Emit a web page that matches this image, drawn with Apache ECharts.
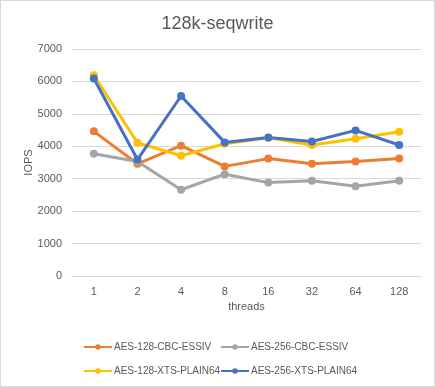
<!DOCTYPE html>
<html><head><meta charset="utf-8">
<script src="https://cdn.jsdelivr.net/npm/echarts@6/dist/echarts.min.js"></script>
<style>html,body{margin:0;padding:0;background:#fff}#c{width:433px;height:385px;border:1px solid #d9d9d9}</style>
</head><body><div id="c"></div>
<script>
const categories = ['1','2','4','8','16','32','64','128'];
const seriesNames = ['AES-128-CBC-ESSIV','AES-256-CBC-ESSIV','AES-128-XTS-PLAIN64','AES-256-XTS-PLAIN64'];
const aes128cbc = [4460,3460,4020,3380,3620,3460,3530,3620];
const aes256cbc = [3770,3530,2660,3140,2880,2940,2770,2940];
const aes128xts = [6190,4110,3710,4080,4260,4040,4230,4450];
const aes256xts = [6090,3590,5550,4120,4270,4150,4490,4040];
const colors = ['#ED7D31','#A5A5A5','#FFC000','#4472C4'];
const yTicks = {min:0,max:7000,interval:1000};

const chart = echarts.init(document.getElementById('c'));
const dataArr = [aes128cbc,aes256cbc,aes128xts,aes256xts];
const legendPos = [[77,336],[214,336],[77,360],[214,360]];
const txt = {color:'#595959',fontFamily:'Liberation Sans, Arial, sans-serif'};
chart.setOption({
  animation:false,
  color:colors,
  title:{text:'128k-seqwrite',left:'center',top:9,textStyle:{fontSize:18,fontWeight:'normal',color:'#595959',fontFamily:'Liberation Sans, Arial, sans-serif'}},
  grid:{left:71,right:13,top:48,bottom:110,containLabel:false},
  legend:seriesNames.map((n,i)=>({data:[n],left:legendPos[i][0],top:legendPos[i][1],itemWidth:28,itemHeight:7,itemGap:0,textStyle:Object.assign({fontSize:10,padding:[0,0,0,-3]},txt)})),
  xAxis:{type:'category',data:categories,boundaryGap:true,name:'threads',nameLocation:'middle',nameGap:24,nameTextStyle:Object.assign({fontSize:11},txt),
    axisLine:{lineStyle:{color:'#d9d9d9'}},axisTick:{show:false},axisLabel:Object.assign({fontSize:11,margin:10},txt)},
  yAxis:{type:'value',min:yTicks.min,max:yTicks.max,interval:yTicks.interval,name:'IOPS',nameLocation:'middle',nameGap:38,nameMoveOverlap:false,nameTextStyle:Object.assign({fontSize:11},txt),
    axisLine:{show:false},axisTick:{show:false},splitLine:{lineStyle:{color:'#d9d9d9'}},axisLabel:Object.assign({fontSize:11,margin:10,formatter:v=>String(v)},txt)},
  series:seriesNames.map((n,i)=>({name:n,type:'line',data:dataArr[i],symbol:'circle',symbolSize:8,lineStyle:{width:3},itemStyle:{color:colors[i]}}))
});
</script></body></html>
